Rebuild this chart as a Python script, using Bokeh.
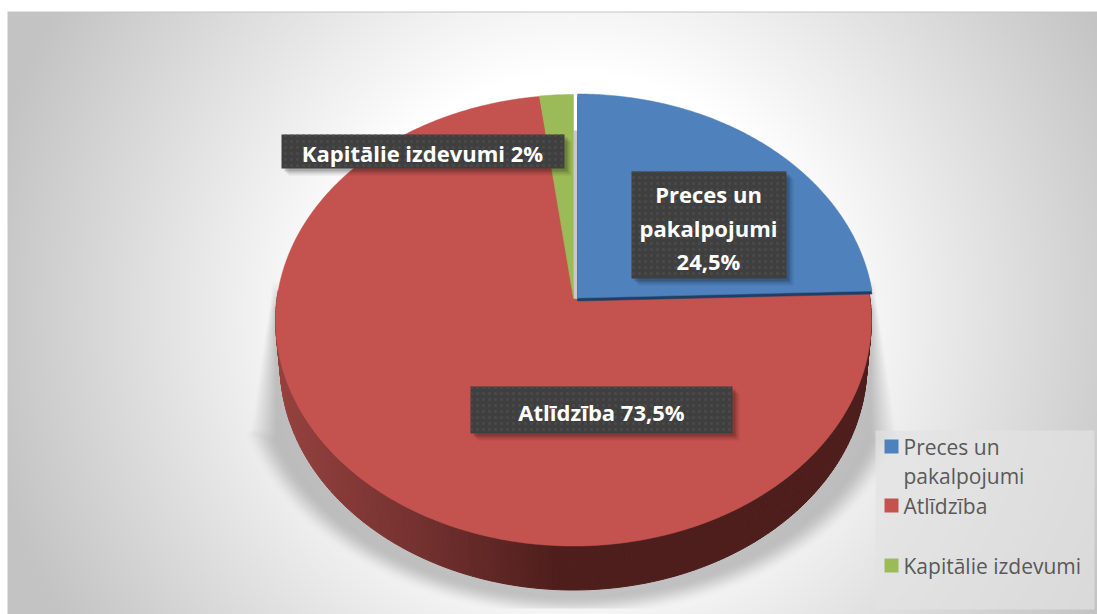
import numpy as np
from bokeh.plotting import figure
from bokeh.models import Range1d
from bokeh.core.properties import value
from bokeh.embed import file_html
from bokeh.resources import INLINE

categories = ["Preces un pakalpojumi", "Atlīdzība", "Kapitālie izdevumi"]
shares = [24.5, 73.5, 2.0]
colors = ["#4f81bd", "#c4524f", "#9bbb59"]
data_labels = ["Preces un\npakalpojumi\n24,5%", "Atlīdzība 73,5%", "Kapitālie izdevumi 2%"]

W, H = 1097, 614
p = figure(width=W, height=H, output_backend="svg", toolbar_location=None,
           x_range=Range1d(0, W), y_range=Range1d(-H, 0),
           x_axis_location=None, y_axis_location=None, min_border=0,
           outline_line_color=None, background_fill_color="white", border_fill_color="white")
p.grid.visible = False

# background: radial grey gradient and the pie's soft shadow
px = np.arange(0, W) + 0.5
py = np.arange(0, H) + 0.5
X, Y = np.meshgrid(px, py)
d = np.sqrt((X - 575) ** 2 + (Y - 310) ** 2)
g = np.clip(255 - (d - 240) * 0.165, 195, 255)
e = np.sqrt(((X - 573) / 310) ** 2 + ((Y - 370) / 225) ** 2)
s = np.clip((1.10 - e) / 0.10, 0, 1)
s = s * s * (3 - 2 * s)
dx = np.abs(X - 573)
hw = 303 + 0.15 * np.clip(Y - 300, 0, 130) + 1.5 * np.clip(Y - 430, 0, None)
s2 = np.clip((hw - dx) / (hw - 297), 0, 1)
s = np.minimum(s, s2) * np.clip((Y - 280) / 30, 0, 1) * (Y < 608)
g = g * (1 - 0.22 * s)
g = np.where(Y < 12, 196, g)
v = np.clip(g, 0, 255).astype(np.uint32)
a = np.where((Y < 11) | (X < 7), 0, 255).astype(np.uint32)
img = (a << 24) | (v << 16) | (v << 8) | v
p.image_rgba(image=[img[::-1].copy()], x=0, y=-H, dw=W, dh=H)

# projection of the tilted pie
RT, RB = 204.0, 247.0
b = (RB - RT) / (RB + RT)
A = RT * (1 + b)


def proj(theta, cx, cy, rx):
    uu, vv = np.sin(theta), np.cos(theta)
    den = 1 + b * vv
    return cx + rx * uu / den, cy - A * vv / den


def sector(start, end, cx, cy, rx, ax=None):
    t = np.linspace(start, end, max(int(abs(end - start) * 90), 3))
    ex, ey = proj(t, cx, cy, rx)
    return np.r_[cx if ax is None else ax, ex], np.r_[cy, ey]


total = sum(shares)
edges = np.cumsum([0] + shares) / total * 2 * np.pi

# red slice side wall, shaded along x
DEPTH = 44.0
ts = np.linspace(edges[1], 4.75, 220)
ox, oy = proj(ts, 573.0, 298.5, 296.5)
stops_x = [275, 400, 560, 872]
stops_c = [(150, 66, 63), (120, 52, 50), (78, 30, 28), (78, 30, 28)]
for i in range(len(ts) - 1):
    xm = 0.5 * (ox[i] + ox[i + 1])
    c = [int(np.interp(xm, stops_x, [q[k] for q in stops_c])) for k in range(3)]
    col = "#%02x%02x%02x" % tuple(c)
    lx = [573.0 + (q - 573.0) * 0.985 for q in (ox[i], ox[i + 1])]
    xs = [ox[i], ox[i + 1], lx[1], lx[0]]
    ys = [oy[i], oy[i + 1], oy[i + 1] + DEPTH, oy[i] + DEPTH]
    p.patch(xs, [-q for q in ys], fill_color=col, line_color=col, line_width=1)

# red top face
ex, ey = sector(edges[1], edges[2], 573.0, 298.5, 296.5, ax=574.5)
p.patch(ex, -ey, fill_color=colors[1], line_color=colors[1], line_width=0.5)

# slim gap shading between the green and blue slices
p.quad(left=[573.0], right=[577.0], bottom=[-298.0], top=[-130.0], fill_color="#c9c9c9", line_color=None)

# blue side edge + top face
ex, ey = sector(edges[0], edges[1], 577.0, 297.5, 295.5)
p.patch(ex, -(ey + 3), fill_color="#1f3f66", line_color="#1f3f66", line_width=0.5)
p.patch(ex, -ey, fill_color=colors[0], line_color=colors[0], line_width=0.5)

# green
ex, ey = sector(edges[2], edges[3], 573.0, 298.0, 297.5)
p.patch(ex, -ey, fill_color=colors[2], line_color=colors[2], line_width=0.5)

# data label boxes
boxes = [(631, 786, 171, 278), (470, 732, 386, 433), (281, 564, 134, 168)]
for (l, rr, t, bt) in boxes:
    for k, al in ((7, 0.07), (5, 0.10), (3, 0.16)):
        p.quad(left=[l + k], right=[rr + k], top=[-(t + k)], bottom=[-(bt + k)],
               fill_color="black", fill_alpha=al, line_color=None)
    p.quad(left=[l], right=[rr], top=[-t], bottom=[-bt], fill_color="#3f3f3f", line_color=None,
           hatch_pattern="dot", hatch_color="#4a4a4a", hatch_scale=6, hatch_weight=1.5)

font = value("Open Sans")
lines = data_labels[0].split("\n")
p.text(x=[708] * 3, y=[-193, -227, -260], text=lines, text_color="white", text_font=font,
       text_font_style="bold", text_font_size="22px", text_align="center", text_baseline="middle")
p.text(x=[601], y=[-411], text=[data_labels[1]], text_color="white", text_font=font,
       text_font_style="bold", text_font_size="22px", text_align="center", text_baseline="middle")
p.text(x=[422], y=[-152], text=[data_labels[2]], text_color="white", text_font=font,
       text_font_style="bold", text_font_size="22px", text_align="center", text_baseline="middle")

# legend panel
p.quad(left=[875], right=[1094], top=[-430], bottom=[-609], fill_color="#e2e2e2", fill_alpha=0.7, line_color=None)
for col, yy in zip(colors, (446, 505, 565)):
    p.quad(left=[884], right=[898], top=[-(yy - 7)], bottom=[-(yy + 7)], fill_color=col, line_color=None)
p.text(x=[903] * 4, y=[-446, -475, -505, -565],
       text=["Preces un", "pakalpojumi", categories[1], categories[2]],
       text_color="#595959", text_font=font, text_font_size="21px", text_align="left", text_baseline="middle")

open("out.html", "w").write(file_html(p, INLINE))
